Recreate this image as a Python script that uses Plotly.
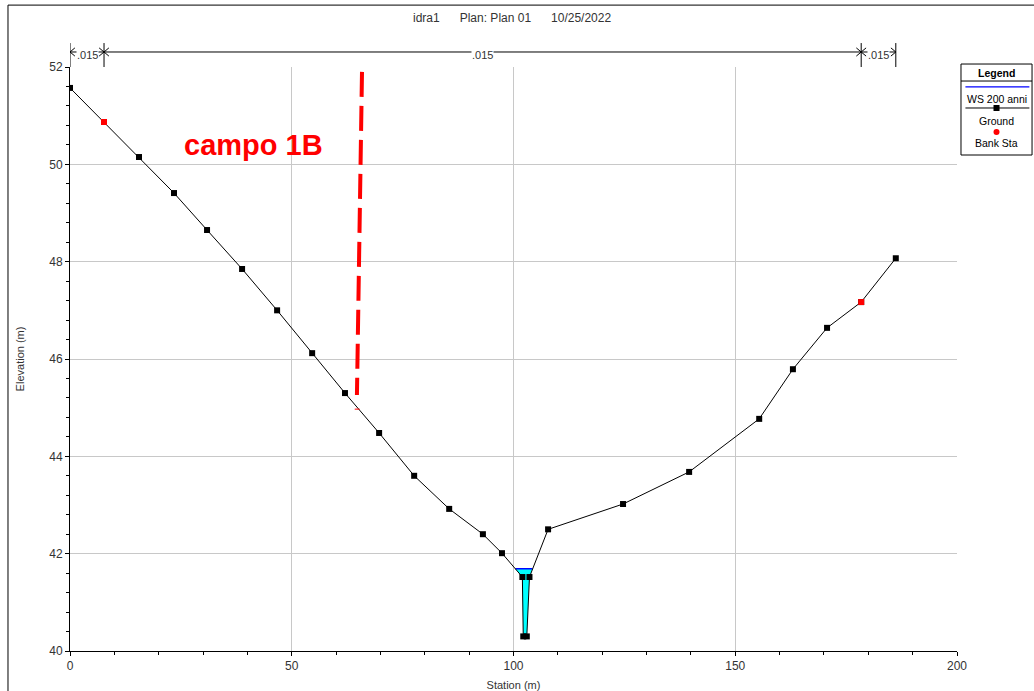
import plotly.graph_objects as go

# Ground profile (station m, elevation m)
ground_x = [0.0, 7.67, 15.56, 23.45, 30.9, 38.8, 46.7, 54.6, 62.0, 69.7, 77.6, 85.5, 93.1, 97.4,
            102.0, 102.2, 103.0, 103.6, 107.8, 124.7, 139.6, 155.4, 163.0, 170.7, 178.4, 186.2]
ground_y = [51.57, 50.87, 50.15, 49.41, 48.65, 47.85, 47.0, 46.12, 45.30, 44.48, 43.6, 42.92, 42.40, 42.01,
            41.52, 40.30, 40.30, 41.52, 42.50, 43.02, 43.68, 44.77, 45.79, 46.64, 47.17, 48.07]
bank_x = [7.67, 178.4]
bank_y = [50.87, 47.17]
ws_level = 41.69
ws_x = [100.4, 104.3]
fill_x = [100.4, 102.0, 102.2, 103.0, 103.6, 104.3, 100.4]
fill_y = [41.69, 41.52, 40.30, 40.30, 41.52, 41.69, 41.69]
manning_breaks = [0.0, 7.67, 178.4, 186.2]
manning_n = [".015", ".015", ".015"]
note_text = "campo 1B"
title_text = "idra1      Plan: Plan 01      10/25/2022"

FONT = "Liberation Sans, Arial, sans-serif"

fig = go.Figure()
fig.add_trace(go.Scatter(x=fill_x, y=fill_y, fill="toself", fillcolor="#00ffff",
                         line=dict(color="rgba(0,0,0,0)", width=0), mode="lines",
                         showlegend=False, hoverinfo="skip"))
fig.add_trace(go.Scatter(x=ws_x, y=[ws_level, ws_level], mode="lines",
                         line=dict(color="#0000ff", width=1.5), name="WS 200 anni", showlegend=False))
fig.add_trace(go.Scatter(x=ground_x, y=ground_y, mode="lines+markers",
                         line=dict(color="black", width=1),
                         marker=dict(symbol="square", size=6, color="black"),
                         name="Ground", showlegend=False))
fig.add_trace(go.Scatter(x=bank_x, y=bank_y, mode="markers",
                         marker=dict(symbol="square", size=6, color="red"),
                         name="Bank Sta", showlegend=False))

shapes = []
annotations = []

# outer frame
shapes.append(dict(type="line", xref="paper", yref="paper", x0=-0.0699, x1=-0.0699, y0=-0.2, y1=1.106,
                   line=dict(color="black", width=1)))
shapes.append(dict(type="line", xref="paper", yref="paper", x0=-0.0699, x1=1.2, y0=1.106, y1=1.106,
                   line=dict(color="black", width=1)))

# Manning's n bar
y_top, y_bot, y_mid = 1.041, 1.0, 1.0257
for b in manning_breaks:
    shapes.append(dict(type="line", xref="x", yref="paper", x0=b, x1=b, y0=y_bot, y1=y_top,
                       line=dict(color="black", width=1)))
for i in range(len(manning_n)):
    a, b = manning_breaks[i], manning_breaks[i + 1]
    shapes.append(dict(type="line", xref="x", yref="paper", x0=a, x1=b, y0=y_mid, y1=y_mid,
                       line=dict(color="black", width=1)))
    # arrowheads
    shapes.append(dict(type="path", xref="x", yref="paper",
                       path=f"M {a+1.1},{y_mid+0.007} L {a},{y_mid} L {a+1.1},{y_mid-0.007}",
                       line=dict(color="black", width=1)))
    shapes.append(dict(type="path", xref="x", yref="paper",
                       path=f"M {b-1.1},{y_mid+0.007} L {b},{y_mid} L {b-1.1},{y_mid-0.007}",
                       line=dict(color="black", width=1)))
    annotations.append(dict(x=(a + b) / 2, y=1.0205, xref="x", yref="paper", text=manning_n[i],
                            xanchor="center", yanchor="middle",
                            showarrow=False, bgcolor="white", borderpad=0,
                            font=dict(family=FONT, size=11, color="#333333")))

# red dashed annotation line
shapes.append(dict(type="line", xref="x", yref="y", x0=65.84, y0=51.9, x1=64.7, y1=45.26,
                   line=dict(color="red", width=4, dash="25px,9px")))
shapes.append(dict(type="line", xref="x", yref="y", x0=64.2, y0=44.97, x1=65.3, y1=44.97,
                   line=dict(color="red", width=1)))
annotations.append(dict(x=(253 - 70) / 4.435, y=52 - (145 - 67) / 48.67, xref="x", yref="y",
                        text="<b>" + note_text + "</b>", xanchor="center", yanchor="middle",
                        showarrow=False, font=dict(family=FONT, size=29, color="red")))

# Legend box
lx0, lx1 = 1.0045, 1.0846
lxc = (lx0 + lx1) / 2
shapes.append(dict(type="rect", xref="paper", yref="paper", x0=lx0, x1=lx1, y0=0.8493, y1=1.0051,
                   line=dict(color="black", width=1), fillcolor="white"))
shapes.append(dict(type="line", xref="paper", yref="paper", x0=lx0, x1=lx1, y0=0.9760, y1=0.9760,
                   line=dict(color="black", width=1)))
shapes.append(dict(type="line", xref="paper", yref="paper", x0=lx0 + 0.005, x1=lx1 - 0.003, y0=0.9658, y1=0.9658,
                   line=dict(color="#0000ff", width=1.2)))
shapes.append(dict(type="line", xref="paper", yref="paper", x0=lx0 + 0.005, x1=lx1 - 0.003, y0=0.9298, y1=0.9298,
                   line=dict(color="black", width=1)))
shapes.append(dict(type="rect", xref="paper", yref="paper", x0=lxc - 0.0034, x1=lxc + 0.0034,
                   y0=0.9298 - 0.0051, y1=0.9298 + 0.0051, line=dict(width=0), fillcolor="black"))
shapes.append(dict(type="circle", xref="paper", yref="paper", x0=lxc - 0.0034, x1=lxc + 0.0034,
                   y0=0.8887 - 0.0051, y1=0.8887 + 0.0051, line=dict(width=0), fillcolor="red"))
for txt, yy, bold in [("Legend", 0.9897, True), ("WS 200 anni", 0.9452, False),
                      ("Ground", 0.9075, False), ("Bank Sta", 0.8699, False)]:
    annotations.append(dict(x=lxc, y=yy, xref="paper", yref="paper",
                            xanchor="center", yanchor="middle",
                            text=f"<b>{txt}</b>" if bold else txt, showarrow=False,
                            font=dict(family=FONT, size=10.5, color="black")))

# title
annotations.append(dict(x=(512 - 70) / 887, y=1 + (67 - 18) / 584, xref="paper", yref="paper",
                        xanchor="center", yanchor="middle",
                        text=title_text, showarrow=False,
                        font=dict(family=FONT, size=12, color="#333333")))

fig.update_layout(
    width=1034, height=691,
    margin=dict(l=70, r=77, t=67, b=40, autoexpand=False),
    paper_bgcolor="white", plot_bgcolor="white",
    showlegend=False,
    shapes=shapes, annotations=annotations,
    font=dict(family=FONT, size=12, color="#333333"),
    xaxis=dict(range=[0, 200], dtick=50, showgrid=True, gridcolor="#c8c8c8", gridwidth=1,
               showline=True, linecolor="black", linewidth=1, ticks="outside", ticklen=4,
               tickcolor="black", zeroline=False, automargin=False,
               minor=dict(dtick=10, ticks="outside", ticklen=3, tickcolor="black", showgrid=False),
               title=dict(text="Station (m)", font=dict(size=11), standoff=8),
               tickfont=dict(size=12, color="#333333")),
    yaxis=dict(range=[40, 52], dtick=2, showgrid=True, gridcolor="#c8c8c8", gridwidth=1,
               showline=True, linecolor="black", linewidth=1, ticks="outside", ticklen=4,
               tickcolor="black", zeroline=False, automargin=False,
               minor=dict(dtick=0.4, ticks="outside", ticklen=3, tickcolor="black", showgrid=False),
               title=dict(text="Elevation (m)", font=dict(size=11), standoff=22),
               tickfont=dict(size=12, color="#333333")),
)

fig.write_html("out.html")
